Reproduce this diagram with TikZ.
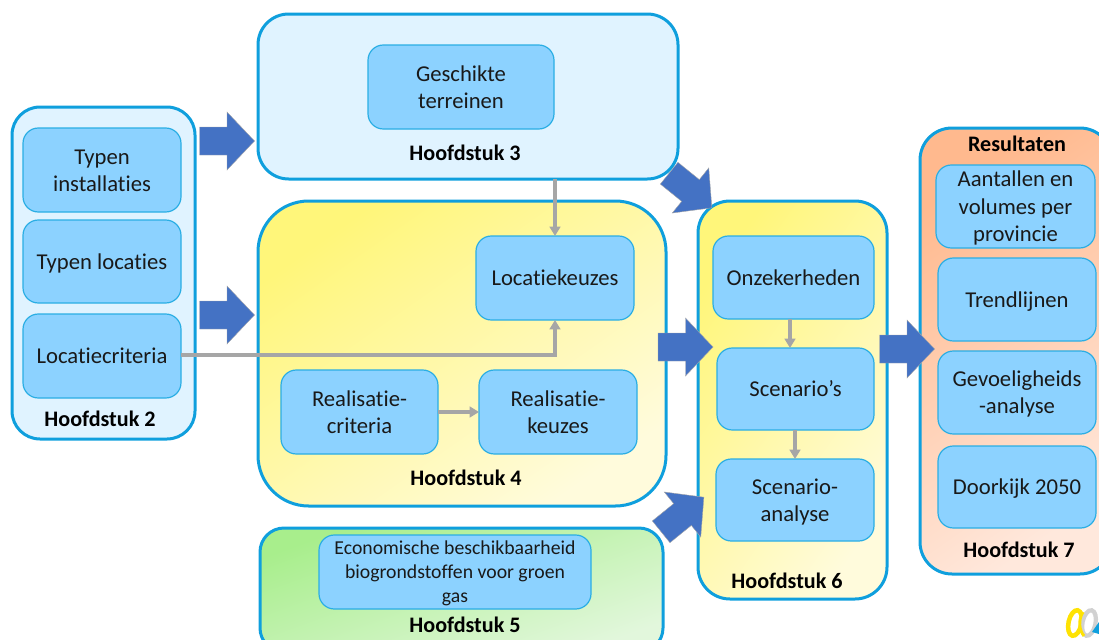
\documentclass[tikz,border=0pt]{standalone}
\usepackage{fontspec}
\setmainfont[RawFeature={-liga;-clig;-dlig}]{Carlito}
\usetikzlibrary{arrows.meta}
\definecolor{frameblue}{HTML}{0F9FDD}
\definecolor{innerblue}{HTML}{8CD2FF}
\definecolor{inneredge}{HTML}{2AAEE4}
\definecolor{paleblue}{HTML}{E0F3FF}
\definecolor{arrowblue}{HTML}{4472C4}
\definecolor{linegrey}{HTML}{A6A6A6}
\definecolor{yellowa}{HTML}{FFF67A}
\definecolor{yellowb}{HTML}{FFFBDC}
\definecolor{greena}{HTML}{A8EE8C}
\definecolor{greenb}{HTML}{E2F7DC}
\definecolor{orangea}{HTML}{FFB98E}
\definecolor{orangeb}{HTML}{FFE8DC}
\tikzset{
  x=0.75pt,y=-0.75pt,
  frame/.style={draw=frameblue,line width=2.25pt,inner sep=0pt,outer sep=0pt},
  paleframe/.style={frame,fill=paleblue},
  yellowframe/.style={frame,left color=yellowa,right color=yellowb,shading angle=35},
  greenframe/.style={frame,left color=greena,right color=greenb,shading angle=20},
  orangeframe/.style={frame,left color=orangea,right color=orangeb,shading angle=35},
  innerbox/.style={draw=inneredge,line width=0.9pt,fill=innerblue,rounded corners=11.5pt,
    inner sep=0pt,outer sep=0pt,text=black!90,
    font=\fontsize{17}{20.3}\selectfont},
  chapter/.style={inner sep=0pt,font=\fontsize{16.6}{20}\selectfont\bfseries,text=black},
  link/.style={draw=linegrey,line width=2.7pt,-{Triangle[length=7pt,width=8pt]}},
  blockarrow/.style={fill=arrowblue,draw=black!35,line width=0.3pt},
}
\newcommand{\rbox}[7]{% name, x1, y1, x2, y2, style, text
  \pgfmathsetmacro{\cxx}{(#2+#4)/2}\pgfmathsetmacro{\cyy}{(#3+#5)/2}
  \pgfmathsetmacro{\wdd}{(#4-#2)*0.75}\pgfmathsetmacro{\htt}{(#5-#3)*0.75}
  \node[#6,minimum width=\wdd pt,minimum height=\htt pt] (#1) at (\cxx,\cyy) {#7};}
\newcommand{\tx}[1]{\raisebox{-1.6pt}[\height][\depth]{\begin{tabular}{@{}c@{}}#1\end{tabular}}}
\newcommand{\bigarrow}[3]{% x, y, angle
  \draw[blockarrow,shift={(#1,#2)},rotate=#3] (-27.5,-14) -- (0,-14) -- (0,-29) -- (27.5,0)
    -- (0,29) -- (0,14) -- (-27.5,14) -- cycle;}
\begin{document}
\begin{tikzpicture}
\useasboundingbox (0,0) rectangle (1099,639);
\clip (0,0) rectangle (1099,639);
% containers
\rbox{hs2}{12}{107}{195}{439}{paleframe,rounded corners=21pt}{}
\rbox{hs3}{258}{14}{678}{179}{paleframe,rounded corners=23pt}{}
\rbox{hs4}{258}{201}{666}{506}{yellowframe,rounded corners=38pt}{}
\rbox{hs5}{260}{528}{663}{652}{greenframe,rounded corners=18pt}{}
\rbox{hs6}{698}{201}{887}{599}{yellowframe,shading angle=55,rounded corners=24pt}{}
\rbox{hs7}{920}{128}{1112}{574}{orangeframe,rounded corners=24pt}{}
% inner boxes
\rbox{typinst}{23}{128}{181}{212}{innerbox}{\tx{Typen\\installaties}}
\rbox{typloc}{23}{220}{181}{303}{innerbox}{\tx{Typen locaties}}
\rbox{loccrit}{23}{314}{181}{398}{innerbox}{\tx{Locatiecriteria}}
\rbox{geschikt}{368}{45}{554}{129}{innerbox}{\tx{Geschikte\\terreinen}}
\rbox{lockeuze}{476}{236}{634}{320}{innerbox}{\tx{Locatiekeuzes}}
\rbox{realcrit}{281}{370}{438}{454}{innerbox}{\tx{Realisatie-\\criteria}}
\rbox{realkeuze}{479}{370}{637}{454}{innerbox}{\tx{Realisatie-\\keuzes}}
\rbox{econ}{319}{535}{591}{609}{innerbox,font=\fontsize{14.8}{18}\selectfont}{\tx{Economische beschikbaarheid\\biogrondstoffen voor groen\\gas}}
\rbox{onzeker}{713}{236}{874}{319}{innerbox}{\tx{Onzekerheden}}
\rbox{scen}{717}{348}{874}{430}{innerbox}{\tx{Scenario’s}}
\rbox{scenan}{716}{459}{874}{541}{innerbox}{\tx{Scenario-\\analyse}}
\rbox{aantal}{936}{165}{1095}{248}{innerbox}{\tx{Aantallen en\\volumes per\\provincie}}
\rbox{trend}{938}{258}{1096}{341}{innerbox}{\tx{Trendlijnen}}
\rbox{gevoel}{938}{351}{1096}{434}{innerbox}{\tx{Gevoeligheids\\-analyse}}
\rbox{doorkijk}{938}{446}{1096}{528}{innerbox}{\tx{Doorkijk 2050}}
% chapter labels
\node[chapter] (l2) at (100,419) {Hoofdstuk 2};
\node[chapter] (l3) at (465,153) {Hoofdstuk 3};
\node[chapter] (l4) at (466,478) {Hoofdstuk 4};
\node[chapter] (l5) at (465,625) {Hoofdstuk 5};
\node[chapter] (l6) at (787,581) {Hoofdstuk 6};
\node[chapter] (l7) at (1019,550) {Hoofdstuk 7};
\node[chapter] (lres) at (1017,144) {Resultaten};
% grey connectors
\coordinate (joinloc) at (555,355);
\draw[link] (hs3.south -| joinloc) -- (joinloc |- lockeuze.north);
\draw[link] (loccrit.east |- joinloc) -- (joinloc) -- (joinloc |- lockeuze.south);
\draw[link] (realcrit.east) -- (realkeuze.west);
\coordinate (onzx) at (790,330);
\draw[link] (onzx |- onzeker.south) -- (onzx |- scen.north);
\coordinate (scenx) at (795,440);
\draw[link] (scenx |- scen.south) -- (scenx |- scenan.north);
% block arrows
\bigarrow{227}{141}{0}
\bigarrow{227}{315}{0}
\bigarrow{690.5}{190.5}{-39}
\bigarrow{685.5}{347}{0}
\bigarrow{907}{349}{0}
\bigarrow{682.5}{514.5}{39}
% logo
\draw[yellow!85!orange,line width=3.4pt,rotate around={-12:(1075,623)}] (1075,623) ellipse (6.5 and 13);
\draw[black!18,line width=3.2pt,rotate around={-12:(1089,623)}] (1089,623) ellipse (6.5 and 13);
\draw[yellow!85!orange,line width=2.2pt] (1083,612) .. controls (1078,620) and (1079,630) .. (1084,636);
\fill[frameblue] (1092,632) -- (1099,622) -- (1099,634) -- cycle;
\end{tikzpicture}
\end{document}
